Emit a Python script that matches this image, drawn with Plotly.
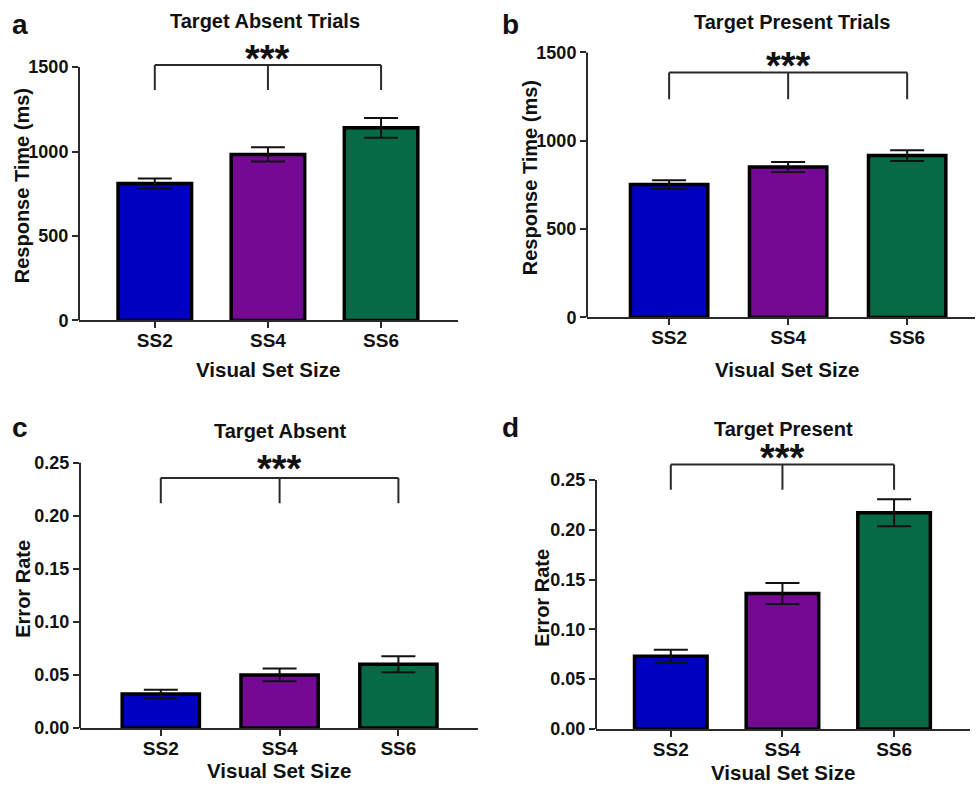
import plotly.graph_objects as go

categories = ["SS2", "SS4", "SS6"]
colors = ["#0000C0", "#740A94", "#066B44"]

# Panel a: Target Absent Trials (response time)
rt_absent = [810, 983, 1140]
rt_absent_err = [30, 42, 58]
# Panel b: Target Present Trials (response time)
rt_present = [752, 851, 916]
rt_present_err = [25, 28, 30]
# Panel c: Target Absent (error rate)
er_absent = [0.032, 0.050, 0.060]
er_absent_err = [0.004, 0.006, 0.0075]
# Panel d: Target Present (error rate)
er_present = [0.073, 0.136, 0.217]
er_present_err = [0.0065, 0.0105, 0.0135]

rt_ticks = [0, 500, 1000, 1500]
er_ticks = [0, 0.05, 0.10, 0.15, 0.20, 0.25]

W, H = 976, 796
REF_H = 785

def px(x):
    return x / W

def py(y):
    return 1 - y / REF_H

panels = [
    dict(name="a", title="Target Absent Trials", ytitle="Response Time (ms)",
         vals=rt_absent, errs=rt_absent_err,
         xdom=[px(79), px(458)], ydom=[py(320), py(40)], yrange=[0, 1660], xrange=[-0.67, 2.68],
         ytickvals=rt_ticks, yfmt="d", ytop=1500,
         br_y=1512, br_low=1364, star_y=1590,
         title_pos=(265, 21), letter_pos=(20, 24), xt_pos=(268, 369), yt_pos=(22, 186)),
    dict(name="b", title="Target Present Trials", ytitle="Response Time (ms)",
         vals=rt_present, errs=rt_present_err,
         xdom=[px(587), px(975)], ydom=[py(317), py(40)], yrange=[0, 1570], xrange=[-0.69, 2.57],
         ytickvals=rt_ticks, yfmt="d", ytop=1500,
         br_y=1387, br_low=1235, star_y=1462,
         title_pos=(792, 22), letter_pos=(510, 24), xt_pos=(787, 369), yt_pos=(530, 178)),
    dict(name="c", title="Target Absent", ytitle="Error Rate",
         vals=er_absent, errs=er_absent_err,
         xdom=[px(80), px(478)], ydom=[py(727), py(445)], yrange=[0, 0.2663], xrange=[-0.68, 2.67],
         ytickvals=er_ticks, yfmt=".2f", ytop=0.25,
         br_y=0.2358, br_low=0.2119, star_y=0.2505,
         title_pos=(280, 430), letter_pos=(20, 427), xt_pos=(279, 770), yt_pos=(23, 588)),
    dict(name="d", title="Target Present", ytitle="Error Rate",
         vals=er_present, errs=er_present_err,
         xdom=[px(596), px(970)], ydom=[py(728), py(440)], yrange=[0, 0.2895], xrange=[-0.67, 2.68],
         ytickvals=er_ticks, yfmt=".2f", ytop=0.25,
         br_y=0.2655, br_low=0.240, star_y=0.279,
         title_pos=(783, 428), letter_pos=(510, 427), xt_pos=(783, 772), yt_pos=(542, 597)),
]

FONT = "Liberation Sans, Arial, sans-serif"
AX = "#2a2a2a"
TXT = "#111111"

fig = go.Figure()
shapes = []
annotations = []

for i, p in enumerate(panels):
    n = "" if i == 0 else str(i + 1)
    xa, ya = "x" + n, "y" + n
    fig.add_trace(go.Bar(
        x=categories, y=p["vals"], xaxis=xa, yaxis=ya,
        marker=dict(color=colors, line=dict(color="black", width=3.5)),
        width=0.65,
        error_y=dict(type="data", array=p["errs"], visible=True,
                     color=TXT, thickness=2, width=17),
        showlegend=False,
    ))
    fig.layout["xaxis" + n] = dict(
        domain=p["xdom"], range=p["xrange"], anchor=ya,
        showline=True, linecolor=AX, linewidth=2,
        ticks="outside", ticklen=6, tickwidth=2, tickcolor=AX,
        ticklabelstandoff=-4,
        tickfont=dict(family=FONT, size=19, color=TXT, weight="bold"),
        showgrid=False, zeroline=False, fixedrange=True,
    )
    fig.layout["yaxis" + n] = dict(
        domain=p["ydom"], range=p["yrange"], anchor=xa,
        showline=False,
        tickmode="array", tickvals=p["ytickvals"], tickformat=p["yfmt"],
        ticks="outside", ticklen=6, tickwidth=2, tickcolor=AX,
        tickfont=dict(family=FONT, size=18, color=TXT, weight="bold"),
        showgrid=False, zeroline=False, fixedrange=True,
    )
    # y axis line only up to top tick
    shapes.append(dict(type="line", xref=xa + " domain", yref=ya,
                       x0=0, x1=0, y0=0, y1=p["ytop"],
                       line=dict(color=AX, width=2)))
    # significance bracket
    xs = categories
    shapes.append(dict(type="line", xref=xa, yref=ya, x0=xs[0], x1=xs[2],
                       y0=p["br_y"], y1=p["br_y"], line=dict(color=AX, width=2)))
    for c in xs:
        shapes.append(dict(type="line", xref=xa, yref=ya, x0=c, x1=c,
                           y0=p["br_low"], y1=p["br_y"], line=dict(color=AX, width=2)))
    annotations.append(dict(xref=xa, yref=ya, x=xs[1], y=p["star_y"], text="<b>***</b>",
                            showarrow=False, font=dict(family=FONT, size=38, color=TXT),
                            yanchor="middle", yshift=-7))
    # texts
    annotations.append(dict(xref="paper", yref="paper", x=px(p["title_pos"][0]), y=py(p["title_pos"][1]),
                            text="<b>" + p["title"] + "</b>", showarrow=False,
                            font=dict(family=FONT, size=20, color=TXT),
                            xanchor="center", yanchor="middle"))
    annotations.append(dict(xref="paper", yref="paper", x=px(p["letter_pos"][0]), y=py(p["letter_pos"][1]),
                            text="<b>" + p["name"] + "</b>", showarrow=False,
                            font=dict(family=FONT, size=28, color=TXT),
                            xanchor="center", yanchor="middle"))
    annotations.append(dict(xref="paper", yref="paper", x=px(p["xt_pos"][0]), y=py(p["xt_pos"][1]),
                            text="<b>Visual Set Size</b>", showarrow=False,
                            font=dict(family=FONT, size=20.5, color=TXT),
                            xanchor="center", yanchor="middle"))
    annotations.append(dict(xref="paper", yref="paper", x=px(p["yt_pos"][0]), y=py(p["yt_pos"][1]),
                            text="<b>" + p["ytitle"] + "</b>", showarrow=False, textangle=-90,
                            font=dict(family=FONT, size=20, color=TXT),
                            xanchor="center", yanchor="middle"))

fig.update_layout(
    width=W, height=H, autosize=False,
    margin=dict(l=0, r=0, t=0, b=0),
    paper_bgcolor="white", plot_bgcolor="white",
    shapes=shapes, annotations=annotations,
    font=dict(family=FONT, color=TXT),
)

fig.write_html("out.html", config={"displayModeBar": False, "responsive": False})

# remove default page margin so the figure sits at the page origin
with open("out.html", "r", encoding="utf-8") as f:
    html = f.read()
html = html.replace("<body>", '<body style="margin:0;padding:0;overflow:hidden;">', 1)
html = html.replace("<head>", "<head><style>html,body{margin:0;padding:0;overflow:hidden;}</style>", 1)
with open("out.html", "w", encoding="utf-8") as f:
    f.write(html)
